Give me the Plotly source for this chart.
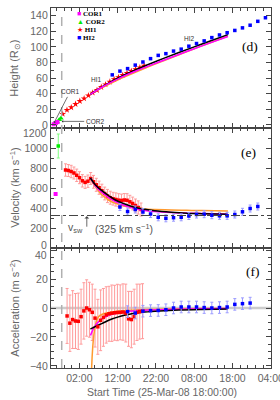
import plotly.graph_objects as go
from plotly.subplots import make_subplots

# ---------------- data (hours since 25-Mar-08 18:00:00) ----------------
tick_hours = [8, 18, 28, 38, 48, 58]
tick_labels = ['02:00', '12:00', '22:00', '08:00', '18:00', '04:00']
onset_hour = 3.4
v_solar_wind = 325

height_ticks = [0, 20, 40, 60, 80, 100, 120, 140]
vel_ticks = [0, 200, 400, 600, 800, 1000, 1200]
acc_ticks = [-40, -20, 0, 20, 40]

# (d) height-time
cor1_t = [1.3, 1.8, 2.3]
cor1_h = [0.8, 2.2, 3.6]
cor2_t = [1.65, 2.25, 2.75, 3.2]
cor2_h = [1.8, 3.6, 6.5, 8.6]
hi1_t = [3.65, 4.77, 5.89, 7.01, 8.13, 9.25, 10.37, 11.49, 12.61, 13.73,
         14.85, 15.97, 17.09, 18.21, 19.33, 20.45, 21.57, 22.69, 23.81, 24.93]
hi1_h = [14.0, 19.1, 22.4, 26.7, 30.5, 33.9, 37.7, 41.2, 44.6, 48.5,
         51.8, 55.2, 58.3, 61.1, 63.8, 66.4, 68.9, 71.3, 73.6, 75.8]
hi2_t = [16.6, 18.6, 20.6, 22.6, 24.6, 26.6, 28.6, 30.6, 32.6, 34.6, 36.6,
         38.6, 40.6, 42.6, 44.6, 46.6, 48.6, 50.6, 52.6, 54.6, 56.6]
hi2_h = [64.2, 69.0, 72.2, 76.7, 80.7, 85.0, 89.2, 91.4, 94.7, 97.2, 101.0,
         104.4, 107.8, 112.0, 115.4, 118.3, 121.2, 124.5, 127.9, 132.9, 137.5]

fit_h_t = [10.9, 12, 14, 16, 18, 20, 22, 24, 26, 30, 34, 38, 42, 46.8]
fit_h_black = [39.3, 42.9, 49.0, 54.6, 59.8, 64.6, 69.1, 73.4, 77.5, 85.3, 92.8, 100.1, 107.3, 115.8]
fit_h_magenta = [39.3, 42.8, 48.6, 53.9, 58.8, 63.3, 67.5, 71.5, 75.4, 83.0, 90.4, 97.7, 104.9, 113.5]
fit_h_orange = [39.3, 42.6, 47.9, 52.8, 57.5, 61.9, 66.2, 70.4, 74.4, 82.3, 90.0, 97.6, 105.1, 114.0]

# (e) velocity
cor1_vt = [1.8]
cor1_v = [540]
cor2_vt = [2.5]
cor2_v = [1020]
cor2_verr = [120]
hi1_vt = [4.4, 5.13, 5.86, 6.59, 7.32, 8.05, 8.78, 9.51, 10.24, 10.97, 11.7, 12.43, 13.16, 13.89,
          14.62, 15.35, 16.08, 16.81, 17.54, 18.27, 19.0, 19.73, 20.46, 21.19, 21.92, 22.65, 23.38, 24.11]
hi1_v = [780, 775, 765, 750, 727, 703, 672, 656, 668, 695, 662, 632, 603, 573,
         545, 520, 503, 493, 485, 478, 475, 480, 477, 462, 445, 425, 405, 385]
hi1_verr = [62, 60, 62, 60, 62, 60, 62, 60, 62, 60, 64, 65, 66, 65,
            64, 66, 65, 64, 66, 65, 64, 65, 66, 65, 64, 65, 66, 65]
hi2_vt = [18.6, 20.6, 22.6, 24.6, 26.6, 28.6, 30.6, 32.6, 34.6, 36.6,
          38.6, 40.6, 42.6, 44.6, 46.6, 48.6, 50.6, 52.6, 54.6]
hi2_v = [410, 365, 385, 360, 340, 307, 297, 303, 307, 320,
         335, 338, 328, 322, 322, 335, 362, 395, 415]
hi2_verr = [35] * 19

fit_v_t = [10.9, 12.2, 13.9, 14.8, 15.6, 17.4, 19.9, 22.5, 25.1, 27.7, 32, 36, 40, 46.8]
fit_v_black = [700, 630, 573, 547, 525, 480, 440, 407, 387, 373, 358, 348, 343, 337]
fit_v_magenta = [700, 620, 555, 530, 505, 465, 425, 395, 375, 365, 355, 349, 345, 340]
fit_v_orange = [700, 613, 530, 505, 480, 447, 420, 403, 390, 385, 380, 377, 374, 370]

# (f) acceleration
hi1_at = [4.8, 5.53, 6.26, 6.99, 7.72, 8.45, 9.18, 9.91, 10.64, 11.37, 12.1, 12.83, 13.56, 14.29,
          15.02, 15.75, 16.48, 17.21, 17.94, 18.67, 19.4, 20.13, 20.86, 21.59, 22.32, 23.05, 23.78, 24.51]
hi1_a = [-5.5, -10.5, -8.0, -9.0, -9.2, -6.0, -2.0, 0.0, -1.2, -3.0, -7.0, -13.0, -8.5, -6.5,
         -4.8, -4.0, -3.6, -3.3, -3.1, -3.0, -2.8, -3.5, -7.5, -8.0, -6.0, -3.0, -2.5, -2.2]
hi1_aerr = [19, 19.5, 20, 19, 19.5, 19, 19.5, 19.5, 19, 19.5, 20, 19, 21, 20,
            19.5, 19, 19.5, 19, 19.5, 19, 19.5, 20, 19, 19.5, 19, 19.5, 19, 19]
hi2_at = [20.6, 22.6, 24.6, 26.6, 28.6, 30.6, 32.6, 34.6, 36.6, 38.6,
          40.6, 42.6, 44.6, 46.6, 48.6, 50.6, 52.6]
hi2_a = [-2.5, -3.5, -2.2, -1.8, -1.7, -1.2, 0.0, 0.7, 0.7, 0.7,
         0.3, 0.0, 0.3, 0.7, 2.5, 3.0, 3.4]
hi2_aerr = [4] * 17

fit_a_t = [10.9, 11.2, 11.5, 11.8, 12.1, 12.5, 13, 14, 15, 16.5, 18, 20, 22, 25, 29, 34, 40, 46.8]
fit_a_orange = [-80, -42, -27, -18.5, -13, -9, -6, -4.3, -3.5, -2.7, -2.2, -1.8, -1.5, -1.1, -0.8, -0.6, -0.4, -0.3]
fit_a_magenta = [-19, -17, -15.3, -13.8, -12.5, -11, -9.6, -7.4, -5.9, -4.4, -3.4, -2.6, -2.1, -1.6, -1.2, -0.9, -0.6, -0.4]
fit_a_black = [-14.5, -14.1, -13.7, -13.3, -12.9, -12.4, -11.8, -10.6, -9.3, -7.6, -6.3, -4.9, -3.8, -2.8, -2.0, -1.4, -1.0, -0.7]

# ---------------- styles ----------------
MAG = '#ff00ff'
GRN = '#00ee00'
RED = '#ff0000'
BLU = '#0000ff'
ORA = '#ff9a2e'
RED_ERR = '#ff9a9a'
BLU_ERR = '#9a9aff'
GRN_ERR = '#80ff80'
AX = '#444444'
TXT = '#666666'
SANS = 'Liberation Sans'
SERIF = 'Liberation Serif'

fig = make_subplots(rows=3, cols=1, shared_xaxes=True, vertical_spacing=0)


def line(t, y, color, row):
    fig.add_trace(go.Scatter(x=t, y=y, mode='lines', line=dict(color=color, width=1.5, shape='spline'),
                             showlegend=False, hoverinfo='skip'), row=row, col=1)


def pts(t, y, color, symbol, size, row, err=None, errcolor=None):
    kw = {}
    if err is not None:
        kw['error_y'] = dict(type='data', array=err, color=errcolor, thickness=1, width=1.5)
    fig.add_trace(go.Scatter(x=t, y=y, mode='markers',
                             marker=dict(color=color, symbol=symbol, size=size, line=dict(width=0)),
                             showlegend=False, **kw), row=row, col=1)


# (d)
pts(hi1_t, hi1_h, RED, 'star', 5, 1)
line(fit_h_t, fit_h_orange, ORA, 1)
line(fit_h_t, fit_h_black, 'black', 1)
line(fit_h_t, fit_h_magenta, MAG, 1)
pts(hi2_t, hi2_h, BLU, 'square', 3.5, 1)
pts(cor2_t, cor2_h, GRN, 'triangle-up', 5, 1)
pts(cor1_t, cor1_h, MAG, 'square', 4, 1)

# (e)
pts(hi1_vt, hi1_v, RED, 'square', 3.5, 2, hi1_verr, RED_ERR)
line(fit_v_t, fit_v_orange, ORA, 2)
line(fit_v_t, fit_v_magenta, MAG, 2)
line(fit_v_t, fit_v_black, 'black', 2)
pts(hi2_vt, hi2_v, BLU, 'square', 3.5, 2, hi2_verr, BLU_ERR)
pts(cor2_vt, cor2_v, GRN, 'square', 3.5, 2, cor2_verr, GRN_ERR)
pts(cor1_vt, cor1_v, MAG, 'square', 4, 2)

# (f)
fig.add_trace(go.Scatter(x=hi1_at, y=hi1_a, mode='markers', marker=dict(size=1, color=RED_ERR),
                         error_y=dict(type='data', array=hi1_aerr, color=RED_ERR, thickness=1, width=1.5),
                         showlegend=False), row=3, col=1)
line(fit_a_t, fit_a_orange, ORA, 3)
line(fit_a_t, fit_a_magenta, MAG, 3)
line(fit_a_t, fit_a_black, 'black', 3)
pts(hi1_at, hi1_a, RED, 'square', 3.5, 3)
pts(hi2_at, hi2_a, BLU, 'square', 3.5, 3, hi2_aerr, BLU_ERR)

# ---------------- axes ----------------
common = dict(showline=True, linecolor=AX, linewidth=1.2, mirror='ticks', ticks='inside', ticklen=5,
              tickcolor=AX, tickwidth=1, showgrid=False, zeroline=False, automargin=False,
              ticklabeloverflow='allow', tickfont=dict(family=SANS, size=10.5, color=TXT))

for r in (1, 2, 3):
    fig.update_xaxes(range=[0.6, 58.05], tickmode='array', tickvals=tick_hours, ticktext=tick_labels,
                     minor=dict(dtick=2, tick0=0, ticks='inside', ticklen=3, tickcolor=AX),
                     row=r, col=1, **common)

# edge labels that would collide at the panel joins are drawn as shifted annotations
fig.update_yaxes(range=[-4, 150], tickmode='array', tickvals=height_ticks,
                 ticktext=[str(v) for v in height_ticks],
                 minor=dict(dtick=10, tick0=0, ticks='inside', ticklen=3, tickcolor=AX), row=1, col=1, **common)
fig.update_yaxes(range=[0, 1200], tickmode='array', tickvals=vel_ticks,
                 ticktext=[''] + [str(v) for v in vel_ticks[1:-1]] + [''],
                 minor=dict(dtick=100, tick0=0, ticks='inside', ticklen=3, tickcolor=AX), row=2, col=1, **common)
fig.update_yaxes(range=[-41.5, 41.5], tickmode='array', tickvals=acc_ticks,
                 ticktext=[('\u2212%d' % -v) if v < 0 else str(v) for v in acc_ticks[:-1]] + [''],
                 minor=dict(dtick=5, tick0=0, ticks='inside', ticklen=3, tickcolor=AX), row=3, col=1, **common)

# ---------------- reference lines ----------------
fig.add_shape(type='line', xref='x', yref='paper', x0=onset_hour, x1=onset_hour, y0=0, y1=1,
              line=dict(color='#b0b0b0', width=1.5, dash='dash'))
fig.add_shape(type='line', xref='paper', yref='y2', x0=0, x1=1, y0=v_solar_wind, y1=v_solar_wind,
              line=dict(color=AX, width=1, dash='dashdot'))
fig.add_shape(type='line', xref='paper', yref='y3', x0=0, x1=1, y0=0, y1=0,
              line=dict(color='#cccccc', width=2.5), layer='below')

# ---------------- annotations ----------------
ann = []
tf = dict(family=SANS, size=10.5, color=TXT)
ann.append(dict(text=str(vel_ticks[-1]), xref='paper', yref='y2', x=0, y=vel_ticks[-1], xanchor='right',
                yanchor='middle', xshift=-2, yshift=-4.5, showarrow=False, font=tf))
ann.append(dict(text=str(vel_ticks[0]), xref='paper', yref='y2', x=0, y=vel_ticks[0], xanchor='right',
                yanchor='middle', xshift=-2, yshift=3, showarrow=False, font=tf))
ann.append(dict(text=str(acc_ticks[-1]), xref='paper', yref='y3', x=0, y=acc_ticks[-1], xanchor='right',
                yanchor='middle', xshift=-2, yshift=-4.5, showarrow=False, font=tf))

sf = dict(family=SANS, size=11, color=TXT)
ann.append(dict(text='Height (R<sub>\u2299</sub>)', xref='paper', yref='paper', x=-0.165, y=5 / 6,
                textangle=-90, showarrow=False, font=sf, xanchor='center', yanchor='middle'))
ann.append(dict(text='Velocity (km s<sup>\u22121</sup>)', xref='paper', yref='paper', x=-0.165, y=0.5,
                textangle=-90, showarrow=False, font=sf, xanchor='center', yanchor='middle'))
ann.append(dict(text='Acceleration (m s<sup>\u22122</sup>)', xref='paper', yref='paper', x=-0.165, y=1 / 6,
                textangle=-90, showarrow=False, font=sf, xanchor='center', yanchor='middle'))
ann.append(dict(text='Start Time (25-Mar-08 18:00:00)', xref='paper', yref='paper', x=0.505, y=-0.066,
                showarrow=False, font=dict(family=SANS, size=10.5, color=TXT), xanchor='center', yanchor='middle'))

pf = dict(family=SERIF, size=13.5, color='black')
ann.append(dict(text='(d)', xref='x domain', yref='y domain', x=0.95, y=0.761, showarrow=False, font=pf))
ann.append(dict(text='(e)', xref='x2 domain', yref='y2 domain', x=0.943, y=0.872, showarrow=False, font=pf))
ann.append(dict(text='(f)', xref='x3 domain', yref='y3 domain', x=0.957, y=0.886, showarrow=False, font=pf))

leg = [('COR1', MAG, '\u25a0'), ('COR2', GRN, '\u25b2'), ('HI1', RED, '\u2605'), ('HI2', BLU, '\u25a0')]
leg_y = [0.95, 0.883, 0.819, 0.752]
for (name, col, g), yy in zip(leg, leg_y):
    ann.append(dict(text="<span style='color:%s'>%s</span> <b>%s</b>" % (col, g, name),
                    xref='x domain', yref='y domain', x=0.108, y=yy, xanchor='left', yanchor='middle',
                    showarrow=False, font=dict(family=SERIF, size=7, color='black')))

lf = dict(family=SANS, size=6.5, color='#333333')
ann.append(dict(text='COR1', xref='x', yref='y', x=1.4, y=2.6, ax=16, ay=-31, showarrow=True,
                arrowhead=1, arrowsize=0.7, arrowwidth=0.7, arrowcolor='#333333', font=lf))
ann.append(dict(text='COR2', xref='x', yref='y', x=3.4, y=4.5, ax=33, ay=0, showarrow=True,
                arrowhead=1, arrowsize=0.7, arrowwidth=0.7, arrowcolor='#333333', font=lf))
ann.append(dict(text='HI1', xref='x', yref='y', x=12.35, y=58.7, showarrow=False, font=lf))
ann.append(dict(text='HI2', xref='x', yref='y', x=36.8, y=110.9, showarrow=False, font=lf))

vf = dict(family=SANS, size=10.5, color='#555555')
ann.append(dict(text='v<sub>sw</sub>', xref='x2', yref='y2', x=9.5, y=200, xanchor='right', yanchor='middle',
                showarrow=False, font=vf))
ann.append(dict(text='(325 km s<sup>\u22121</sup>)', xref='x2', yref='y2', x=11.45, y=200, xanchor='left',
                yanchor='middle', showarrow=False, font=vf))
ann.append(dict(text='', xref='x2', yref='y2', x=9.95, y=318, ax=0, ay=12, showarrow=True,
                arrowhead=1, arrowsize=1, arrowwidth=0.8, arrowcolor='#444444', font=dict(size=6)))

fig.update_layout(width=280, height=400, margin=dict(l=51, r=9, t=8, b=32),
                  plot_bgcolor='white', paper_bgcolor='white', showlegend=False,
                  annotations=ann, font=dict(family=SANS))

fig.write_html('out.html', config={'displayModeBar': False},
               post_script="document.body.style.margin='0';document.body.style.overflow='hidden';")
